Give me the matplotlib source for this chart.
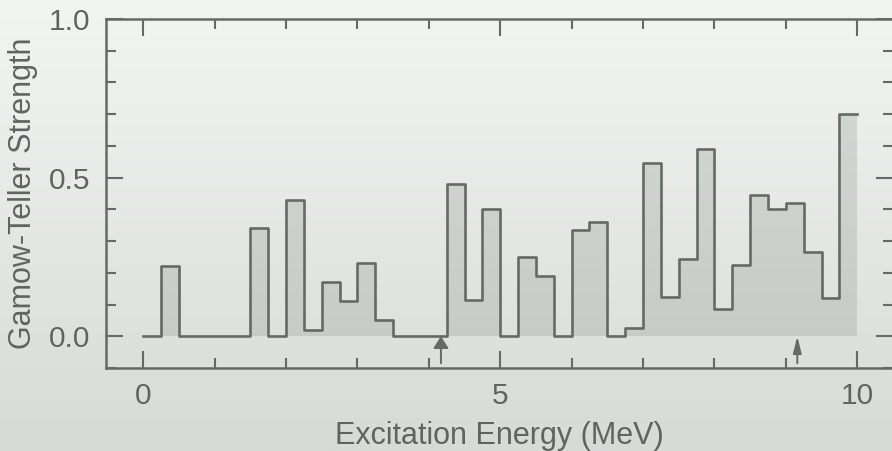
import numpy as np
import matplotlib
matplotlib.use("Agg")
import matplotlib.pyplot as plt
from matplotlib.colors import LinearSegmentedColormap
from matplotlib.ticker import MultipleLocator

# ── Data: Gamow-Teller strength per 0.25 MeV bin ─────────────
bin_edges = np.arange(0, 10.25, 0.25)
gt_strength = [
    0.00, 0.22, 0.00, 0.00, 0.00, 0.00, 0.34, 0.00,
    0.43, 0.02, 0.17, 0.11, 0.23, 0.05, 0.00, 0.00,
    0.00, 0.48, 0.115, 0.40, 0.00, 0.25, 0.19, 0.00,
    0.335, 0.36, 0.00, 0.025, 0.545, 0.125, 0.245, 0.59,
    0.085, 0.225, 0.445, 0.40, 0.42, 0.265, 0.12, 0.70,
]
# marked energies (MeV)
arrow_energies = [4.17, 9.16]
x_ticks = [0, 5, 10]
y_ticks = [0.0, 0.5, 1.0]

# ── Style ────────────────────────────────────────────────────
LINE = "#666a67"
TEXT = "#5f6461"
plt.rcParams.update({
    "font.family": ["Liberation Sans", "DejaVu Sans"],
    "font.size": 21.5,
    "text.color": TEXT,
    "axes.labelcolor": TEXT,
    "axes.labelsize": 22,
    "xtick.color": LINE,
    "ytick.color": LINE,
    "xtick.labelcolor": TEXT,
    "ytick.labelcolor": TEXT,
})

W, H = 892, 451
fig = plt.figure(figsize=(W / 100, H / 100), dpi=100)

# background gradient
bg = fig.add_axes([0, 0, 1, 1], zorder=-10)
bg_cmap = LinearSegmentedColormap.from_list("bg", ["#f3f5f3", "#d6dbd8"])
bg.imshow(np.linspace(0, 1, 256)[:, None], aspect="auto", cmap=bg_cmap,
          extent=[0, 1, 0, 1])
bg.set_axis_off()

ax = fig.add_axes([106 / W, 83 / H, 787 / W, 349 / H])
ax.set_facecolor("none")

y_step = np.append(gt_strength, gt_strength[-1])
ax.fill_between(bin_edges, y_step, 0, step="post",
                color="#8e938f", alpha=0.27, linewidth=0, zorder=2)
ax.step(bin_edges, y_step, where="post", color=LINE, lw=1.9, zorder=3)

head_specs = [(0.46, 0.72), (0.25, 1.0)]
for e, (hw, hl) in zip(arrow_energies, head_specs):
    ax.annotate("", xy=(e, 0.0), xytext=(e, -0.085),
                arrowprops=dict(arrowstyle=f"-|>,head_width={hw},head_length={hl}",
                                color=LINE, lw=1.4, shrinkA=0, shrinkB=0,
                                mutation_scale=10))

ax.set_xlim(-0.52, 10.5)
ax.set_ylim(-0.1, 1.0)
ax.set_xticks(x_ticks)
ax.set_yticks(y_ticks)
ax.set_yticklabels([f"{v:.1f}" for v in y_ticks])
ax.xaxis.set_minor_locator(MultipleLocator(1))
ax.yaxis.set_minor_locator(MultipleLocator(0.1))
ax.tick_params(which="both", direction="in", top=True, right=True, width=1.5)
ax.tick_params(which="major", length=12, pad=10)
ax.tick_params(which="minor", length=7.5)
ax.tick_params(axis="y", which="major", pad=11)

for sp in ax.spines.values():
    sp.set_color(LINE)
    sp.set_linewidth(1.8)

ax.set_xlabel("Excitation Energy (MeV)", labelpad=8)
ax.set_ylabel("Gamow-Teller Strength", labelpad=8)

fig.savefig("out.png", dpi=100)
